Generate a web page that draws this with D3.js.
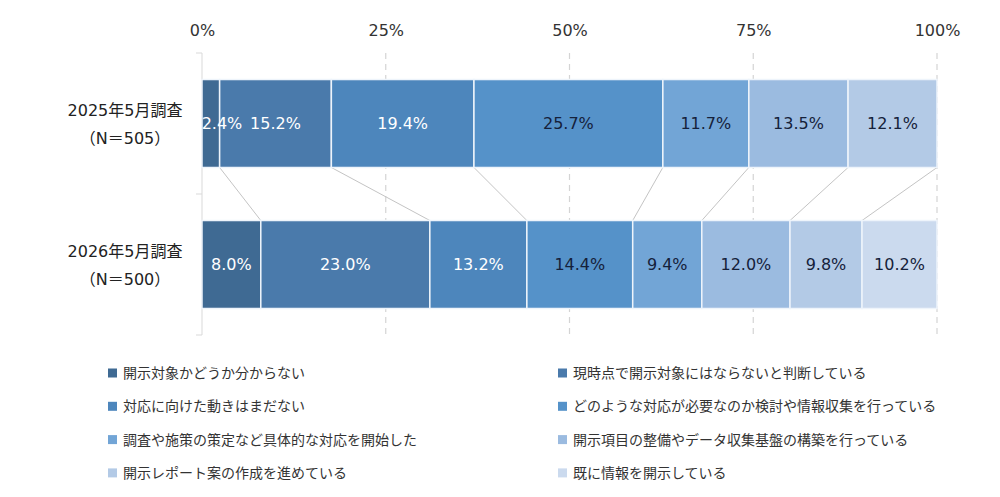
<!DOCTYPE html>
<html>
<head>
<meta charset="utf-8">
<script src="https://cdn.jsdelivr.net/npm/d3@7"></script>
<style>
  body { margin: 0; background: #fff; }
  text { font-family: "DejaVu Sans", "Noto Sans CJK JP", sans-serif; }
</style>
</head>
<body>
<div id="chart"></div>
<script>
var svgWidth = 1000;
var svgHeight = 497;

// data
var surveys = ["2025年5月調査", "2026年5月調査"];
var sampleSizes = ["（N＝505）", "（N＝500）"];
var categories = [
  "開示対象かどうか分からない",
  "現時点で開示対象にはならないと判断している",
  "対応に向けた動きはまだない",
  "どのような対応が必要なのか検討や情報収集を行っている",
  "調査や施策の策定など具体的な対応を開始した",
  "開示項目の整備やデータ収集基盤の構築を行っている",
  "開示レポート案の作成を進めている",
  "既に情報を開示している"
];
var values2025 = [2.4, 15.2, 19.4, 25.7, 11.7, 13.5, 12.1, 0];
var values2026 = [8.0, 23.0, 13.2, 14.4, 9.4, 12.0, 9.8, 10.2];
var xTicks = [0, 25, 50, 75, 100];

var colors = ["#3f6a93", "#4a7aab", "#4d86bc", "#5592c9",
              "#72a5d6", "#9bbbe0", "#b3cae6", "#cbdaee"];

var margin = { top: 53, left: 202, right: 63, bottom: 162 };
var width = svgWidth - margin.left - margin.right;   // 735
var height = svgHeight - margin.top - margin.bottom; // 282

var svg = d3.select("#chart").append("svg")
  .attr("width", svgWidth)
  .attr("height", svgHeight);

var chartGroup = svg.append("g")
  .attr("transform", `translate(${margin.left}, ${margin.top})`);

// build rows for the stack
var rows = surveys.map(function(s, i) {
  var row = { survey: s };
  var vals = i === 0 ? values2025 : values2026;
  categories.forEach(function(c, j) { row[c] = vals[j]; });
  return row;
});

var series = d3.stack().keys(categories)(rows);

var xScale = d3.scaleLinear().domain([0, 100]).range([0, width]);
var yScale = d3.scaleBand().domain(surveys).range([0, height])
  .paddingInner(0.376).paddingOuter(0.188);

// dashed grid lines
chartGroup.append("g")
  .selectAll("line")
  .data(xTicks.slice(1))
  .enter()
  .append("line")
  .attr("x1", d => xScale(d))
  .attr("x2", d => xScale(d))
  .attr("y1", 0)
  .attr("y2", height)
  .attr("stroke", "#d4d4d4")
  .attr("stroke-width", 1.2)
  .attr("stroke-dasharray", "6,5");

// top axis labels
var topAxis = d3.axisTop(xScale)
  .tickValues(xTicks)
  .tickFormat(d => d + "%")
  .tickSize(0)
  .tickPadding(17);

var xAxis = chartGroup.append("g").call(topAxis);
xAxis.select(".domain").remove();
xAxis.selectAll("text")
  .style("font-size", "16px")
  .attr("fill", "#333");

// left axis with small ticks at band edges
chartGroup.append("line")
  .attr("x1", 0).attr("x2", 0)
  .attr("y1", 0).attr("y2", height)
  .attr("stroke", "#d9d9d9");

var edges = [0, yScale.step(), height];
chartGroup.append("g")
  .selectAll("line")
  .data(edges)
  .enter()
  .append("line")
  .attr("x1", -6).attr("x2", 0)
  .attr("y1", d => d).attr("y2", d => d)
  .attr("stroke", "#d9d9d9");

// connector lines between the two bars
var connectors = d3.range(categories.length - 1).map(function(k) {
  return { a: series[k][0][1], b: series[k][1][1] };
});
chartGroup.append("g")
  .selectAll("line")
  .data(connectors)
  .enter()
  .append("line")
  .attr("x1", d => xScale(d.a))
  .attr("y1", yScale(surveys[0]) + yScale.bandwidth())
  .attr("x2", d => xScale(d.b))
  .attr("y2", yScale(surveys[1]))
  .attr("stroke", "#c4c4c4")
  .attr("stroke-width", 1);

// bars
var layers = chartGroup.selectAll(".layer")
  .data(series)
  .enter()
  .append("g")
  .attr("class", "layer")
  .attr("fill", (d, i) => colors[i]);

layers.selectAll("rect")
  .data(d => d.filter(p => p[1] - p[0] > 0))
  .enter()
  .append("rect")
  .attr("x", d => xScale(d[0]))
  .attr("y", d => yScale(d.data.survey))
  .attr("width", d => xScale(d[1]) - xScale(d[0]))
  .attr("height", yScale.bandwidth())
  .attr("stroke", "#eef4fb")
  .attr("stroke-width", 1.5);

// value labels (own group so they sit above every rect)
var labelGroup = chartGroup.append("g");
series.forEach(function(s, i) {
  labelGroup.selectAll(".lbl" + i)
    .data(s.filter(p => p[1] - p[0] > 0))
    .enter()
    .append("text")
    .attr("class", "lbl" + i)
    .attr("x", function(d) {
      var c = xScale((d[0] + d[1]) / 2);
      return Math.max(c, xScale(d[0]) + 20);
    })
    .attr("y", d => yScale(d.data.survey) + yScale.bandwidth() / 2)
    .attr("dy", "0.36em")
    .attr("text-anchor", "middle")
    .style("font-size", "16px")
    .attr("fill", i < 3 ? "#ffffff" : "#15213a")
    .text(d => (d[1] - d[0]).toFixed(1) + "%");
});

// category labels
surveys.forEach(function(s, i) {
  var cy = yScale(s) + yScale.bandwidth() / 2;
  chartGroup.append("text")
    .attr("x", -77).attr("y", cy - 13)
    .attr("dy", "0.36em")
    .attr("text-anchor", "middle")
    .style("font-size", "16px")
    .attr("fill", "#222")
    .text(s);
  chartGroup.append("text")
    .attr("x", -77).attr("y", cy + 15)
    .attr("dy", "0.36em")
    .attr("text-anchor", "middle")
    .style("font-size", "16px")
    .attr("fill", "#222")
    .text(sampleSizes[i]);
});

// legend, two columns
var legend = svg.append("g")
  .selectAll("g")
  .data(categories)
  .enter()
  .append("g")
  .attr("transform", (d, i) => `translate(${i % 2 === 0 ? 108 : 558}, ${373 + Math.floor(i / 2) * 33.3})`);

legend.append("rect")
  .attr("x", 0).attr("y", -4.5)
  .attr("width", 9).attr("height", 9)
  .attr("fill", (d, i) => colors[i]);

legend.append("text")
  .attr("x", 15).attr("y", 0)
  .attr("dy", "0.36em")
  .style("font-size", "14px")
  .attr("fill", "#333")
  .text(d => d);
</script>
</body>
</html>
